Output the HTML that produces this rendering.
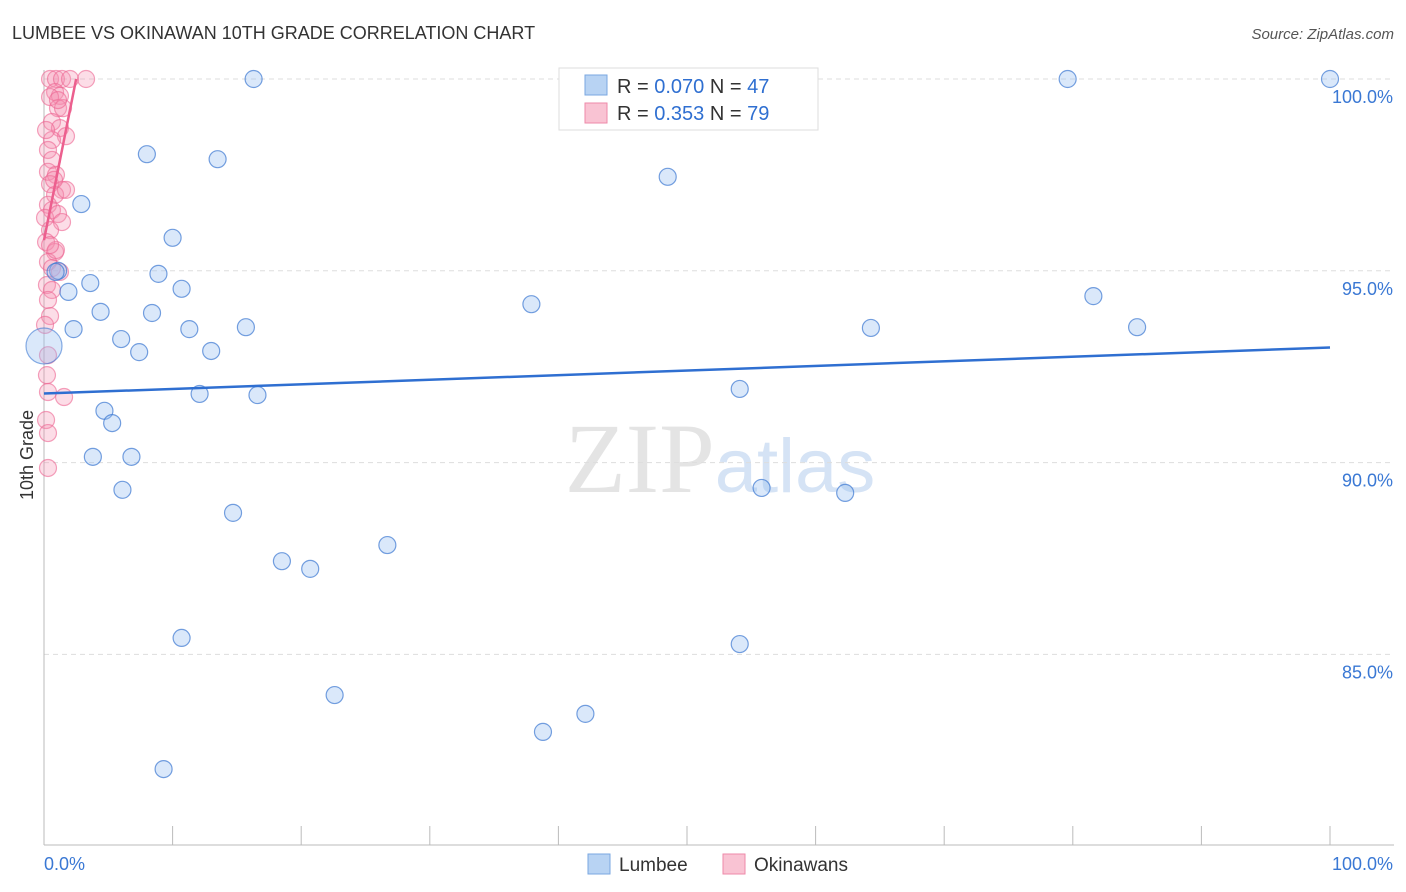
<!DOCTYPE html>
<html><head><meta charset="utf-8"><style>
body{margin:0;background:#fff;font-family:"Liberation Sans",sans-serif;}
#wrap{position:relative;width:1406px;height:892px;overflow:hidden;}
</style></head><body>
<div id="wrap">
<svg id="svg" width="1406" height="892" xmlns="http://www.w3.org/2000/svg">
<text x="12" y="39" font-size="18" fill="#333">LUMBEE VS OKINAWAN 10TH GRADE CORRELATION CHART</text>
<text x="1394" y="39" font-size="15" fill="#555" text-anchor="end" font-style="italic">Source: ZipAtlas.com</text>
<text x="33" y="455" font-size="18" fill="#333" transform="rotate(-90 33 455)" text-anchor="middle">10th Grade</text>
<text x="720" y="492" font-size="100" fill="#e4e4e4" text-anchor="middle" font-family="Liberation Serif,serif">ZIP<tspan fill="#d5e3f5" font-family="Liberation Sans,sans-serif" font-size="76">atlas</tspan></text>
<g id="grid"></g><g id="axes"></g><g id="pts"></g><g id="lines"></g>
<g>
<rect x="559" y="68" width="259" height="62" fill="#fff" stroke="#ddd"/>
<rect x="585" y="75" width="22" height="20" fill="#b8d3f3" stroke="#7aa7e0"/>
<rect x="585" y="103" width="22" height="20" fill="#f9c3d3" stroke="#ee8aa8"/>
<text x="617" y="93" font-size="20" fill="#333">R = <tspan fill="#2f6fd1">0.070</tspan>   N = <tspan fill="#2f6fd1">47</tspan></text>
<text x="617" y="120" font-size="20" fill="#333">R =  <tspan fill="#2f6fd1">0.353</tspan>   N = <tspan fill="#2f6fd1">79</tspan></text>
</g>
<g>
<rect x="588" y="854" width="22" height="20" fill="#b8d3f3" stroke="#7aa7e0"/>
<text x="619" y="871" font-size="19" fill="#333">Lumbee</text>
<rect x="723" y="854" width="22" height="20" fill="#f9c3d3" stroke="#ee8aa8"/>
<text x="754" y="871" font-size="19" fill="#333">Okinawans</text>
</g>
</svg></div>
<script>
const blueX=[16.3,79.6,100,8.0,13.5,48.5,2.9,10.0,1.1,0.9,8.9,3.6,1.9,10.7,37.9,81.6,4.4,8.4,2.3,11.3,15.7,64.3,85.0,6.0,7.4,13.0,54.1,12.1,16.6,4.7,5.3,3.8,6.8,6.1,55.8,62.3,14.7,26.7,18.5,20.7,10.7,54.1,22.6,42.1,38.8,9.3];
const blueY=[100,100,100,98.04,97.91,97.45,96.74,95.86,95.0,94.97,94.92,94.68,94.45,94.53,94.13,94.34,93.93,93.90,93.48,93.48,93.53,93.51,93.53,93.22,92.88,92.91,91.92,91.79,91.76,91.35,91.03,90.15,90.15,89.29,89.34,89.21,88.69,87.85,87.43,87.23,85.43,85.27,83.94,83.45,82.98,82.01];
const bigX=[0], bigY=[93.04];
const pinkX=[0.47,0.93,1.4,2.02,3.27,0.86,1.24,0.47,1.09,1.48,0.62,1.24,1.71,0.62,0.31,0.62,0.31,0.93,0.47,1.4,0.86,1.71,0.31,0.62,0.08,1.09,1.4,0.47,0.16,0.86,0.31,0.62,1.24,0.23,0.62,0.31,0.47,0.08,0.31,0.23,0.31,1.56,0.16,0.31,0.31,0.93,0.47,0.78,0.16,1.09];
const pinkY=[100,100,100,100,100,99.66,99.56,99.53,99.24,99.24,98.88,98.72,98.51,98.41,98.15,97.89,97.58,97.5,97.26,97.11,96.98,97.11,96.72,96.58,96.38,96.48,96.27,96.06,95.75,95.49,95.23,95.07,94.97,94.63,94.5,94.24,93.82,93.59,92.8,92.28,91.84,91.71,91.11,90.77,89.86,95.54,95.67,97.37,98.67,99.45];
const blueLine=[[0,91.8],[100,93.0]];
const pinkLine=[[0,95.8],[2.5,100]];
const yTicks=[100,95,90,85];
const NS="http://www.w3.org/2000/svg";
const sx=v=>44+v*12.86, sy=v=>79+(100-v)*38.36;
function mk(tag,attrs,parent){const e=document.createElementNS(NS,tag);for(const k in attrs)e.setAttribute(k,attrs[k]);parent.appendChild(e);return e;}
const grid=document.getElementById('grid'),axes=document.getElementById('axes'),pts=document.getElementById('pts'),lines=document.getElementById('lines');
yTicks.forEach(t=>{
 const l=mk('line',{x1:44,x2:1394,y1:sy(t),y2:sy(t),stroke:'#ddd','stroke-dasharray':'5,4'},grid);
 
 
 const tx=mk('text',{x:1393,y:sy(t)+24,'font-size':18,fill:'#3a78d4','text-anchor':'end'},axes);
 tx.textContent=t.toFixed(1)+'%';
 
 
});
const ax=mk('line',{x1:44,x2:44,y1:70,y2:845,stroke:'#bbb'},axes);


const bx=mk('line',{x1:44,x2:1394,y1:845,y2:845,stroke:'#bbb'},axes);


for(let i=0;i<=10;i++){const t=mk('line',{x1:sx(i*10),x2:sx(i*10),y1:826,y2:845,stroke:'#bbb'},axes);
 
 }
[['0.0%',44,'start'],['100.0%',1393,'end']].forEach(a=>{const t=mk('text',{x:a[1],y:870,'font-size':18,fill:'#3a78d4','text-anchor':a[2]},axes);t.textContent=a[0];
 
 });
pinkX.forEach((x,i)=>{const c=mk('circle',{cx:sx(x),cy:sy(pinkY[i]),r:8.5,fill:'rgba(244,143,175,0.3)',stroke:'rgba(236,100,145,0.6)','stroke-width':1.2},pts);
 
 });
blueX.forEach((x,i)=>{const c=mk('circle',{cx:sx(x),cy:sy(blueY[i]),r:8.5,fill:'rgba(150,190,240,0.35)',stroke:'rgba(60,120,210,0.7)','stroke-width':1.2},pts);
 
 });
bigX.forEach((x,i)=>{const c=mk('circle',{cx:sx(x),cy:sy(bigY[i]),r:18,fill:'rgba(150,190,240,0.35)',stroke:'rgba(60,120,210,0.6)','stroke-width':1.2},pts);
 
 });
const bl=mk('line',{x1:sx(blueLine[0][0]),y1:sy(blueLine[0][1]),x2:sx(blueLine[1][0]),y2:sy(blueLine[1][1]),stroke:'#2f6fd1','stroke-width':2.5},lines);


const pl=mk('line',{x1:sx(pinkLine[0][0]),y1:sy(pinkLine[0][1]),x2:sx(pinkLine[1][0]),y2:sy(pinkLine[1][1]),stroke:'#ec5f8e','stroke-width':2.5},lines);


</script>
</body></html>
